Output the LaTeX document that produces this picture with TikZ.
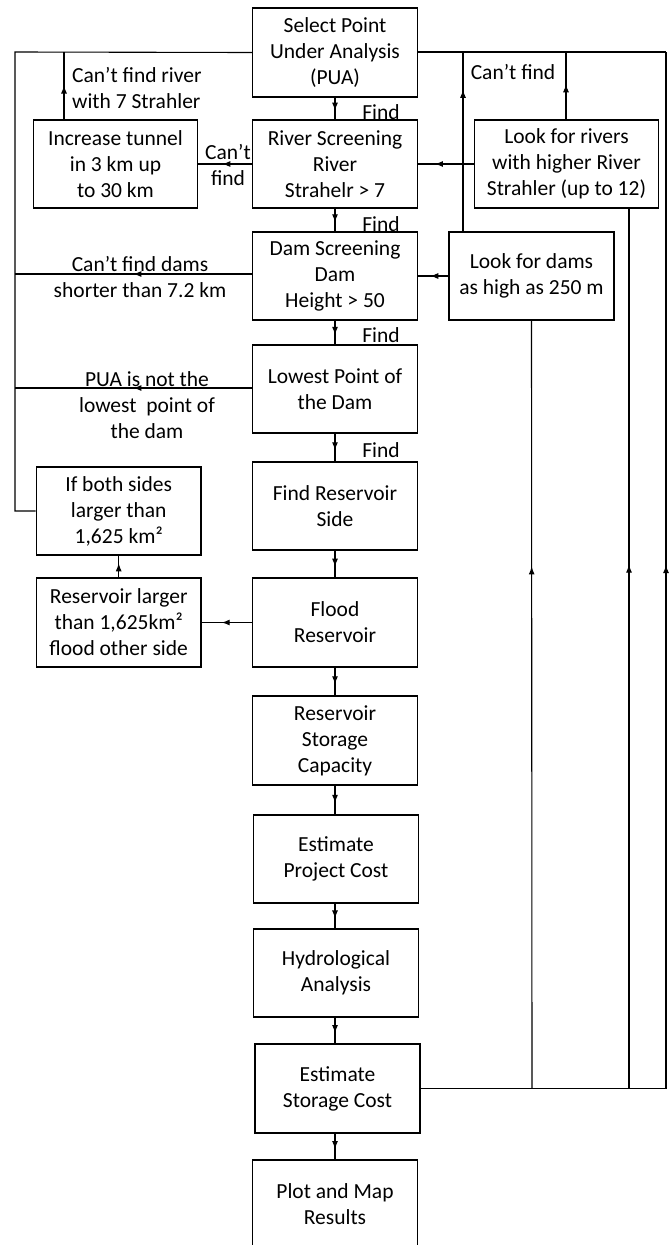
\documentclass[tikz,border=0pt]{standalone}
\usepackage{fontspec}
\setmainfont{Carlito}
\usetikzlibrary{arrows.meta,decorations.markings,calc}
\tikzset{
  x=1pt,y=-1pt,
  box/.style={draw,line width=1.5pt,align=center,inner sep=2pt,
    minimum width=165pt,minimum height=88pt,
    font=\fontsize{21.5pt}{26pt}\selectfont},
  lbl/.style={align=center,inner sep=0pt,font=\fontsize{21.5pt}{26pt}\selectfont},
  conn/.style={line width=1.1pt},
  arrowat/.style={postaction={decorate},decoration={markings,
    mark=at position #1 with {\arrow{Latex[length=8pt,width=6pt]}}}},
  arrowat/.default=0.5
}
\begin{document}
\begin{tikzpicture}
\useasboundingbox[fill=white] (0,0) rectangle (670,1245);
% main column
\node[box,minimum height=89pt] (b1) at (335,52.5) {Select Point\\Under Analysis\\(PUA)};
\node[box] (b2) at (335,164) {River Screening\\River\\Strahelr > 7};
\node[box] (b3) at (335,276) {Dam Screening\\Dam\\Height > 50};
\node[box] (b4) at (335,389) {Lowest Point of\\the Dam};
\node[box] (b5) at (335,506) {Find Reservoir\\Side};
\node[box,minimum height=89pt] (b6) at (335,622.5) {Flood\\Reservoir};
\node[box,minimum height=89pt] (b7) at (335,740.5) {Reservoir\\Storage\\Capacity};
\node[box] (b8) at (336,859) {Estimate\\Project Cost};
\node[box] (b9) at (336,973) {Hydrological\\Analysis};
\node[box,minimum height=89pt] (b10) at (337.5,1088.5) {Estimate\\Storage Cost};
\node[box] (b11) at (335,1204) {Plot and Map\\Results};
% side boxes
\node[box,minimum width=164pt] (tun) at (115.5,164) {Increase tunnel\\in 3 km up\\to 30 km};
\node[box,minimum width=184pt] (riv) at (566.5,164) {Look for rivers\\with higher River\\Strahler (up to 12)};
\node[box] (dams) at (531.5,276) {Look for dams\\as high as 250 m};
\node[box,minimum width=164.5pt] (both) at (118.7,511) {If both sides\\larger than\\1,625 km²};
\node[box,minimum width=164.5pt,minimum height=89pt] (resl) at (118.7,622.5) {Reservoir larger\\than 1,625km²\\flood other side};
% coordinates
\coordinate (L52) at (15,52);
\coordinate (L511) at (15,511);
\coordinate (L274) at (15,274);
\coordinate (L388) at (15,388);
\coordinate (T119) at (64,119);
\coordinate (T52) at (64,52);
\coordinate (R52) at (666,52);
\coordinate (R1088) at (666,1088.5);
\coordinate (D1088) at (532,1088.5);
\coordinate (V1088) at (629,1088.5);
\coordinate (V209) at (629,208);
\coordinate (D232) at (463,232);
\coordinate (D52) at (463,52);
\coordinate (Rv52) at (566,52);
% main flow
\draw[conn,arrowat=0.6] (b1) -- (b2);
\draw[conn,arrowat=0.6] (b2) -- (b3);
\draw[conn,arrowat=0.6] (b3) -- (b4);
\draw[conn,arrowat=0.6] (b4) -- (b5);
\draw[conn,arrowat=0.6] (b5) -- (b6);
\draw[conn,arrowat=0.6] (b6) -- (b7);
\draw[conn,arrowat=0.6] (b7.south) -- (b8.north -| b7.south);
\draw[conn,arrowat=0.6] (b8.south -| b7.south) -- (b9.north -| b7.south);
\draw[conn,arrowat=0.6] (b9.south -| b7.south) -- (b10.north -| b7.south);
\draw[conn,arrowat=0.6] (b10.south -| b7.south) -- (b11.north);
% left side
\draw[conn] (b1.west) -- (L52) -- (L511) -- (both.west);
\draw[conn,arrowat=0.55] (b2.west) -- (tun.east);
\draw[conn,arrowat=0.5] (T119) -- (T52);
\draw[conn,arrowat=0.5] (b3.west |- L274) -- (L274);
\draw[conn,arrowat=0.5] (b4.west |- L388) -- (L388);
\draw[conn,arrowat=0.6] (b6.west) -- (resl.east);
\draw[conn,arrowat=0.65] (resl.north) -- (both.south);
% right side
\draw[conn,arrowat=0.7] (riv.west) -- (b2.east);
\draw[conn,arrowat=0.6] (dams.west) -- (b3.east);
\draw[conn] (b10.east |- R1088) -- (R1088);
\draw[conn,arrowat=0.505] (R1088) -- (R52);
\draw[conn] (R52) -- (b1.east |- R52);
\draw[conn,arrowat=0.68] (D1088) -- (dams.south);
\draw[conn,arrowat=0.595] (V1088) -- (V209);
\draw[conn,arrowat=0.79] (D232) -- (D52);
\draw[conn,arrowat=0.52] (riv.north -| Rv52) -- (Rv52);
% labels
\node[lbl] (f1) at (381,112) {Find};
\node[lbl] (f2) at (381,224) {Find};
\node[lbl] (f3) at (381,335) {Find};
\node[lbl] (f4) at (381,450) {Find};
\node[lbl,align=left,anchor=west] (l1) at (72,88) {Can’t find river\\with 7 Strahler};
\node[lbl] (l2) at (228,165) {Can’t\\find};
\node[lbl] (l3) at (513,72) {Can’t find};
\node[lbl] (l4) at (140,276.5) {Can’t find dams\\shorter than 7.2 km};
\node[lbl] (l5) at (147,405) {PUA is not the\\lowest\ \ point of\\the dam};
\end{tikzpicture}
\end{document}
